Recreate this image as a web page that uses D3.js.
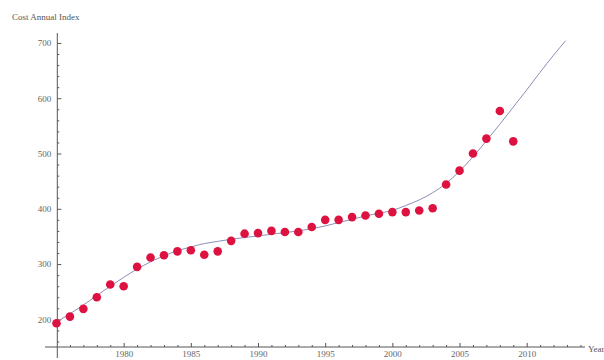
<!DOCTYPE html>
<html>
<head>
<meta charset="utf-8">
<script src="https://cdn.jsdelivr.net/npm/d3@7/dist/d3.min.js"></script>
<style>
  html, body { margin: 0; padding: 0; background: #fff; }
  svg { display: block; }
  .axis path, .axis line { stroke: #555; }
  .axis text { fill: #666; font-family: "Liberation Serif", "Times New Roman", serif; font-size: 9px; }
</style>
</head>
<body>
<svg id="chart" width="604" height="360"></svg>
<script>
// Observed annual cost index, one value per year
const years = d3.range(1975, 2010);
const costIndex = [
  193, 205, 219, 240, 263, 260, 295, 312, 316, 323,
  325, 317, 323, 342, 355, 356, 360, 358, 358, 367,
  380, 380, 385, 388, 391, 394, 394, 397, 401, 444,
  469, 500, 527, 577, 522
];

// Smooth trend curve, sampled by year
const trendYears = [1975, 1976, 1977, 1978, 1979, 1980, 1981, 1982, 1983, 1984,
  1985, 1986, 1987, 1988, 1989, 1990, 1991, 1992, 1993, 1994, 1995, 1996, 1997,
  1998, 1999, 2000, 2001, 2002, 2003, 2004, 2005, 2006, 2007, 2008, 2009, 2010,
  2011, 2012, 2012.9];
const trendValues = [195, 210, 226, 243, 260, 276, 291, 304, 315, 324,
  331, 337, 341, 345, 348, 351, 354, 357, 360, 364, 369, 375, 381,
  387, 392, 397, 406, 416, 429, 446, 468, 494, 523, 553, 584, 615,
  647, 678, 704];

// Axis ticks
const xMajorTicks = [1980, 1985, 1990, 1995, 2000, 2005, 2010];
const xMinorTicks = d3.range(1976, 2015).filter(v => v % 5 !== 0);
const yMajorTicks = [200, 300, 400, 500, 600, 700];
const yMinorTicks = d3.range(160, 720, 20).filter(v => v % 100 !== 0);

const svg = d3.select("#chart");

const x = d3.scaleLinear().domain([1975, 2010]).range([56.5, 526.7]);
const y = d3.scaleLinear().domain([150, 718]).range([347, 33]);

const axisX = 57.3;   // where the vertical axis sits
const axisY = y(150); // where the horizontal axis sits

// Horizontal axis
const gx = svg.append("g").attr("class", "axis").attr("transform", `translate(0,${axisY})`);
gx.call(d3.axisBottom(x).tickValues(xMinorTicks).tickSize(-2).tickFormat(""));
gx.call(g => g.select(".domain").remove());
const gx2 = svg.append("g").attr("class", "axis").attr("transform", `translate(0,${axisY})`);
gx2.call(d3.axisBottom(x).tickValues(xMajorTicks).tickSize(-4).tickPadding(4).tickFormat(d3.format("d")));
gx2.select(".domain").remove();
svg.append("line").attr("x1", 45).attr("x2", 585).attr("y1", axisY).attr("y2", axisY)
  .attr("stroke", "#555").attr("stroke-width", 1);

// Vertical axis
const gy = svg.append("g").attr("class", "axis").attr("transform", `translate(${axisX},0)`);
gy.call(d3.axisLeft(y).tickValues(yMinorTicks).tickSize(-2).tickFormat(""));
gy.select(".domain").remove();
const gy2 = svg.append("g").attr("class", "axis").attr("transform", `translate(${axisX},0)`);
gy2.call(d3.axisLeft(y).tickValues(yMajorTicks).tickSize(-4).tickPadding(6));
gy2.select(".domain").remove();
svg.append("line").attr("x1", axisX).attr("x2", axisX).attr("y1", 33).attr("y2", 358)
  .attr("stroke", "#555").attr("stroke-width", 1);

// Axis titles
svg.append("text").attr("x", 12).attr("y", 20)
  .attr("font-family", "Liberation Serif, Times New Roman, serif").attr("font-size", 9)
  .attr("fill", "#555").text("Cost Annual Index");
svg.append("text").attr("x", 588).attr("y", 352)
  .attr("font-family", "Liberation Serif, Times New Roman, serif").attr("font-size", 9)
  .attr("fill", "#555").text("Year");

// Trend curve
const trend = trendYears.map((t, i) => [t, trendValues[i]]);
svg.append("path")
  .datum(trend)
  .attr("fill", "none")
  .attr("stroke", "#8c8fb8")
  .attr("stroke-width", 1)
  .attr("d", d3.line().x(d => x(d[0])).y(d => y(d[1])).curve(d3.curveMonotoneX));

// Data points
svg.append("g")
  .selectAll("circle")
  .data(years.map((t, i) => [t, costIndex[i]]))
  .join("circle")
  .attr("cx", d => x(d[0]))
  .attr("cy", d => y(d[1]))
  .attr("r", 4.3)
  .attr("fill", "#de1240");
</script>
</body>
</html>
